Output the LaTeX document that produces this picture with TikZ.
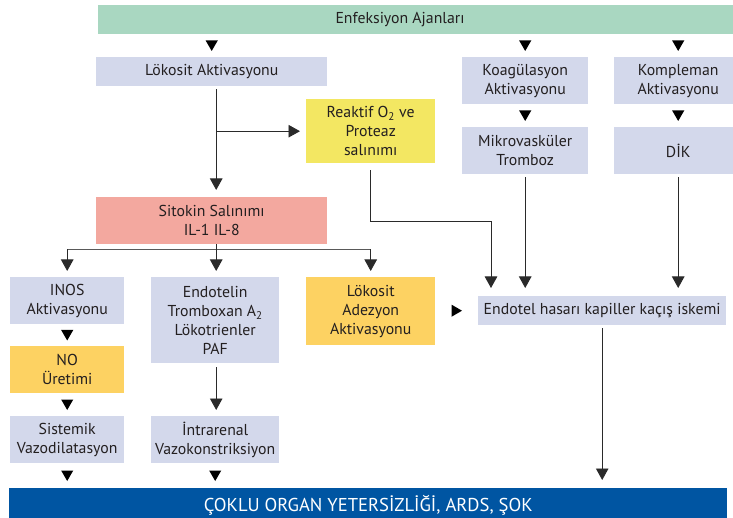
\documentclass[tikz,border=0pt]{standalone}
\usepackage{fontspec}
\setmainfont{PT Sans}
\usetikzlibrary{arrows.meta,shapes.geometric}
\definecolor{grc}{HTML}{A9D7C1}
\definecolor{lav}{HTML}{D3D8EB}
\definecolor{sal}{HTML}{F3A89F}
\definecolor{yel}{HTML}{F3E762}
\definecolor{org}{HTML}{FDD262}
\definecolor{blu}{HTML}{0055A2}
\definecolor{txt}{HTML}{231F20}
\definecolor{lnc}{HTML}{2A2A2A}
\begin{document}
\begin{tikzpicture}[x=1pt,y=-1pt,
  bx/.style={anchor=north west, inner sep=0pt, align=center, text=txt,
    font=\fontsize{15.8}{19}\selectfont},
  lavbox/.style={bx, fill=lav},
  salbox/.style={bx, fill=sal},
  yelbox/.style={bx, fill=yel},
  orgbox/.style={bx, fill=org},
  tridown/.style={regular polygon, regular polygon sides=3, shape border rotate=180,
    minimum size=14pt, inner sep=0pt, fill=black, yshift=1.7pt},
  triright/.style={regular polygon, regular polygon sides=3, shape border rotate=-90,
    minimum size=14pt, inner sep=0pt, fill=black, xshift=-1.7pt},
  arr/.style={draw=lnc, line width=0.9pt, -{Triangle[width=12.5pt,length=11.5pt]}},
  ln/.style={draw=lnc, line width=0.9pt},
  br/.style={draw=black!65, line width=1.6pt}
]
\useasboundingbox (0,0) rectangle (733,518);
\clip (0,0) rectangle (733,518);

% boxes
\node[bx, fill=grc, minimum width=642pt, minimum height=29pt] (g) at (98,5) {};
\node[text=txt, font=\fontsize{15.8}{19}\selectfont, inner sep=0pt] (gt) at (400,19.5) {Enfeksiyon Ajanları};
\node[lavbox, minimum width=231pt, minimum height=29pt] (lok) at (96,57) {Lökosit Aktivasyonu};
\node[lavbox, minimum width=126pt, minimum height=47pt] (koag) at (462,57) {Koagülasyon\\Aktivasyonu};
\node[lavbox, minimum width=128pt, minimum height=47pt] (komp) at (614,57) {Kompleman\\Aktivasyonu};
\node[yelbox, minimum width=129pt, minimum height=64pt] (reak) at (306,99) {Reaktif O\textsubscript{2} ve\\Proteaz\\salınımı};
\node[lavbox, minimum width=126pt, minimum height=47pt] (mikro) at (462,127) {Mikrovasküler\\Tromboz};
\node[lavbox, minimum width=128pt, minimum height=47pt] (dik) at (614,127) {DİK};
\node[salbox, minimum width=231pt, minimum height=47pt] (sit) at (96,197) {Sitokin Salınımı\\IL-1 IL-8};
\node[lavbox, minimum width=114pt, minimum height=47pt] (inos) at (10,277) {INOS\\Aktivasyonu};
\node[lavbox, minimum width=128pt, minimum height=86pt] (endo) at (151,277) {Endotelin\\Tromboxan A\textsubscript{2}\\Lökotrienler\\PAF};
\node[orgbox, minimum width=129pt, minimum height=68pt] (lad) at (306,277) {Lökosit\\Adezyon\\Aktivasyonu};
\node[lavbox, minimum width=248pt, minimum height=29pt] (endt) at (478,296) {Endotel hasarı kapiller kaçış iskemi};
\node[orgbox, minimum width=114pt, minimum height=47pt] (no) at (10,346) {NO\\Üretimi};
\node[lavbox, minimum width=114pt, minimum height=47pt] (sis) at (10,416) {Sistemik\\Vazodilatasyon};
\node[lavbox, minimum width=128pt, minimum height=47pt] (intra) at (151,416) {İntrarenal\\Vazokonstriksiyon};
\node[bx, fill=blu, text=white, minimum width=718pt, minimum height=35pt,
  font=\fontsize{18.6}{20}\selectfont] (blue) at (9,488) {\raisebox{3pt}{ÇOKLU ORGAN YETERSİZLİĞİ, ARDS, ŞOK}};

% standalone arrow heads
\path (lok.north |- g.south) -- node[tridown] {} (lok.north);
\path (koag.north |- g.south) -- node[tridown] {} (koag.north);
\path (komp.north |- g.south) -- node[tridown] {} (komp.north);
\path (koag.south) -- node[tridown] {} (mikro.north);
\path (komp.south) -- node[tridown] {} (dik.north);
\path (inos.south) -- node[tridown] {} (no.north);
\path (no.south) -- node[tridown] {} (sis.north);
\path (sis.south) -- node[tridown] {} (sis.south |- blue.north);
\path (intra.south) -- node[tridown] {} (intra.south |- blue.north);
\path (lad.east |- endt.west) -- node[triright] {} (endt.west);

% connectors
\coordinate (a1) at ([xshift=4.5pt]lok.south);
\coordinate (a2) at ([xshift=4.5pt]sit.north);
\draw[arr, shorten <=3pt, shorten >=7pt] (a1) -- (a2);
\draw[arr, shorten >=6pt] (a1 |- reak.west) -- (reak.west);
\coordinate (rk) at (reak.south |- 0,221);
\draw[arr, shorten <=7pt, shorten >=8pt] (reak.south) -- (rk) -| ([xshift=13pt]endt.north west);
\draw[arr, shorten <=3pt, shorten >=8pt] (mikro.south) -- (mikro.south |- endt.north);
\draw[arr, shorten <=3pt, shorten >=8pt] (dik.south) -- (dik.south |- endt.north);

\coordinate (s0) at ([xshift=4.5pt]sit.south);
\coordinate (sb) at ([yshift=-5pt]s0);
\draw[ln] (s0) -- (sb);
\draw[br] (inos.north |- sb) -- (lad.north |- sb);
\draw[arr, shorten >=6pt] (inos.north |- sb) -- (inos.north);
\draw[arr, shorten >=6pt] (sb) -- (sb |- endo.north);
\draw[arr, shorten >=6pt] (lad.north |- sb) -- (lad.north);
\draw[arr, shorten <=4pt, shorten >=6pt] (sb |- endo.south) -- (sb |- intra.north);
\draw[arr, shorten <=3pt, shorten >=8pt] (endt.south) -- (endt.south |- blue.north);
\end{tikzpicture}
\end{document}
